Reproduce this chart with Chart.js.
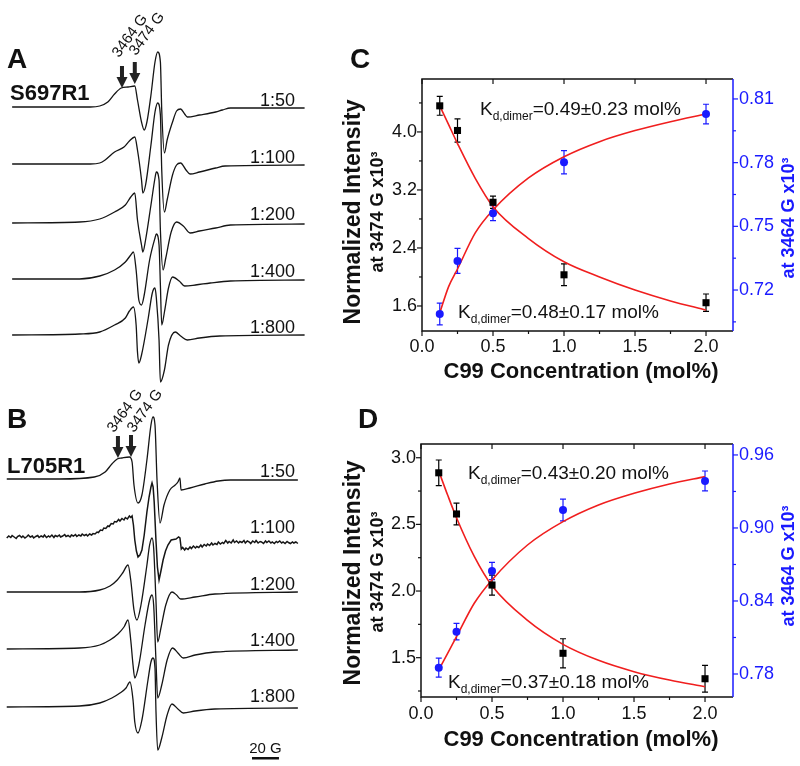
<!DOCTYPE html>
<html>
<head>
<meta charset="utf-8">
<script src="https://cdn.jsdelivr.net/npm/chart.js@4.4.1/dist/chart.umd.min.js"></script>
<style>
  html, body { margin: 0; padding: 0; background: #fff; }
  #wrap { position: relative; width: 800px; height: 766px; overflow: hidden; }
  canvas { position: absolute; }
</style>
</head>
<body>
<div id="wrap">
  <canvas id="epr" width="310" height="766" style="left:0;top:0;width:310px;height:766px"></canvas>
  <canvas id="chartC" width="470" height="385" style="left:330px;top:0;width:470px;height:385px"></canvas>
  <canvas id="chartD" width="470" height="381" style="left:330px;top:385px;width:470px;height:381px"></canvas>
</div>
<script>
const FONT = '"Liberation Sans", Arial, Helvetica, sans-serif';
const BLUE = "#1a1aff";
const RED = "#f01e1e";

const ratioLabels = ["1:50", "1:100", "1:200", "1:400", "1:800"];

const s697_50 = [[3383,0],[3418,0],[3441,0],[3448,1],[3454,5],[3459,13],[3464,19],[3469,20],[3474,21],[3476,7],[3479,-15],[3481,-23],[3483,-15],[3486,12],[3489,45],[3491,55],[3493,45],[3494,-3],[3496,-46],[3498,-33],[3502,-15],[3505,-4],[3508,-2],[3511,-7],[3513,-10],[3522,-8],[3534,-5],[3539,-3],[3545,-1],[3600,-1]];
const s697_100 = [[3383,0],[3441,0],[3448,1],[3452,4],[3459,12],[3466,17],[3470,23],[3474,27],[3476,14],[3479,-16],[3480,-29],[3482,-21],[3486,19],[3489,52],[3491,61],[3493,49],[3494,-6],[3496,-48],[3498,-36],[3502,-11],[3505,-1],[3508,1],[3512,-6],[3515,-10],[3522,-8],[3534,-4],[3541,-2],[3600,-1]];
const s697_200 = [[3383,-1],[3433,0],[3448,3],[3459,10],[3467,17],[3471,25],[3474,29],[3476,2],[3479,-23],[3480,-30],[3482,-18],[3486,17],[3489,44],[3490,50],[3492,42],[3493,-8],[3495,-48],[3497,-36],[3501,-10],[3505,0],[3510,-4],[3515,-11],[3522,-9],[3534,-6],[3545,-3],[3600,-2]];
const s697_400 = [[3383,0],[3433,0],[3448,3],[3459,9],[3467,17],[3471,24],[3473,27],[3475,9],[3477,-21],[3479,-26],[3481,-16],[3485,19],[3489,41],[3490,45],[3492,34],[3493,-6],[3494,-46],[3496,-33],[3499,-9],[3502,2],[3507,-2],[3511,-7],[3519,-6],[3530,-4],[3545,-2],[3600,-1]];
const s697_800 = [[3383,-1],[3433,0],[3448,2],[3459,9],[3467,16],[3470,23],[3473,27],[3475,9],[3476,-18],[3477,-29],[3479,-21],[3484,16],[3487,41],[3489,46],[3490,36],[3492,-6],[3493,-48],[3496,-36],[3499,-11],[3504,2],[3508,-2],[3513,-6],[3522,-4],[3537,-2],[3600,-1]];

const l705_50 = [[3379,0],[3418,0],[3444,2],[3452,7],[3457,15],[3461,20],[3464.5,21],[3470,22],[3472,17],[3473.4,-6],[3476.4,-24],[3479.3,-16],[3483,19],[3486,54],[3487.5,62],[3489,54],[3490.5,-1],[3492.7,-44],[3495.7,-26],[3500,-11],[3504,-6],[3506,-3],[3507.5,1],[3508.3,-11],[3515,-9],[3526,-5],[3536,-2],[3545,-1],[3595,-1]];
const l705_100 = [[3379,-1],[3380.5,1],[3382,-0.5],[3383,1.5],[3384.5,0],[3386,-1.5],[3387,0.5],[3388.5,1.5],[3390,-0.5],[3391,1],[3392.5,-1],[3394,0.5],[3395,2],[3396.5,0],[3398,1],[3399,-1],[3400.5,0.5],[3402,1.5],[3403,-0.5],[3404.5,1],[3406,0],[3407,2],[3408.5,-0.5],[3410,1],[3411,0],[3412.5,2],[3414,-0.5],[3415,1.5],[3416.5,0.5],[3418,2],[3419,0],[3420.5,1],[3422,2.5],[3423,0.5],[3424.5,1.5],[3426,0],[3427,2],[3428.5,1],[3430,2.5],[3431,0.5],[3432.5,2],[3434,1],[3435,3],[3436.5,1.5],[3438,2.5],[3439,1],[3440.5,3],[3442,2],[3443,3.5],[3444.5,3],[3446,5],[3447,4.5],[3448.5,7],[3450,6.5],[3451,9],[3452.5,8.5],[3454,11],[3455,10.5],[3456.5,13.5],[3458,13],[3459,15.5],[3460.5,15],[3462,17.5],[3463,16],[3464.5,18.5],[3466,17],[3467,19.5],[3468.5,18],[3470,21],[3471,19.5],[3472,21],[3473,12],[3474,-3],[3475.2,-14],[3476.4,-20],[3477.8,-18],[3479.3,-13],[3481,2],[3483,25],[3484.6,40],[3486,50],[3486.8,54],[3487.6,50],[3488.4,35],[3489.7,-3],[3490.8,-30],[3492,-43],[3493.4,-34],[3495,-23],[3496.8,-14],[3498.6,-8],[3501,-3],[3504.6,-2],[3506.5,0],[3507.5,-1],[3508.5,-12],[3509.5,-10.5],[3511,-13],[3512,-11],[3513.5,-12.5],[3515,-10],[3516,-11.5],[3517.5,-9],[3519,-11],[3520,-9.5],[3521.5,-10.5],[3523,-8],[3524,-10],[3525.5,-7.5],[3527,-9],[3528,-7],[3529.5,-8.5],[3531,-6],[3532,-8],[3533.5,-6.5],[3535,-7.5],[3536,-5],[3537.5,-7],[3539,-5.5],[3540,-6.5],[3541.5,-3.5],[3543,-6],[3544,-4.5],[3545.5,-6],[3547,-3],[3548,-5.5],[3549.5,-4],[3551,-6],[3552,-4.5],[3553.5,-5.5],[3555,-3.5],[3556,-6],[3557.5,-4],[3559,-5],[3560,-6.5],[3561.5,-4],[3563,-5.5],[3564,-3.5],[3565.5,-6],[3567,-4.5],[3568,-5],[3569.5,-6.5],[3571,-4],[3572,-5.5],[3573.5,-4],[3575,-6],[3576,-5],[3577.5,-6.5],[3579,-4.5],[3580,-5.5],[3581.5,-4],[3583,-6],[3584,-5],[3585.5,-6.5],[3587,-4.5],[3588,-5.5],[3589.5,-6.5],[3591,-5],[3592,-6],[3593.5,-5],[3595,-6.5]];
const l705_200 = [[3379,0],[3433,0],[3448,2],[3455.6,6],[3461,12],[3465,19],[3469,27],[3471,12],[3473.4,-18],[3475.6,-28],[3478.6,-13],[3483,27],[3485,47],[3486.8,54],[3488,44],[3489.7,-8],[3491,-50],[3493.4,-36],[3497,-13],[3501.6,0],[3505,-3],[3508,-7],[3518.7,-5],[3533.5,-2],[3595,0]];
const l705_400 = [[3379,-1],[3433,0],[3448,3],[3455.6,8],[3461.5,14],[3466,21],[3469,28],[3471,8],[3472.7,-17],[3474,-30],[3477,-17],[3481.6,23],[3485,48],[3486.8,53],[3488,43],[3489.7,-12],[3491,-50],[3494,-37],[3498,-12],[3502,0],[3506,-5],[3510,-10],[3518.7,-7],[3533.5,-4],[3595,-2]];
const l705_800 = [[3379,-1],[3433,0],[3448,3],[3457,8],[3463,13],[3467.5,18],[3470.4,24],[3472.7,6],[3474,-16],[3476.4,-27],[3479.3,-14],[3483.8,26],[3486,44],[3487.5,48],[3489,38],[3489.7,-4],[3491,-44],[3494,-32],[3498,-9],[3501.6,2],[3506,-3],[3510,-7],[3518.7,-5],[3533.5,-3],[3595,-2]];

const fieldMarks = ["3464 G", "3474 G"];
const scaleBarGauss = 20;

// ---- titration data (C and D) ----
const concentrations = [0.125, 0.25, 0.5, 1.0, 2.0];

const cInt3474 = [4.36, 4.02, 3.03, 2.03, 1.645];
const cErr3474 = [0.13, 0.16, 0.085, 0.15, 0.12];
const cInt3464 = [0.7087, 0.7337, 0.7562, 0.7802, 0.8029];
const cErr3464 = [0.0051, 0.0059, 0.0035, 0.0055, 0.0046];

const dInt3474 = [2.887, 2.578, 2.045, 1.533, 1.342];
const dErr3474 = [0.096, 0.081, 0.075, 0.109, 0.10];
const dInt3464 = [0.7852, 0.8148, 0.8647, 0.9148, 0.9386];
const dErr3464 = [0.0078, 0.0068, 0.0071, 0.0089, 0.0082];

const fitConc = [0.125, 0.1875, 0.25, 0.375, 0.5, 0.75, 1.0, 1.25, 1.5, 1.75, 2.0];
const cFit3474 = [4.36, 4.10, 3.84, 3.36, 2.97, 2.53, 2.21, 2.00, 1.82, 1.67, 1.545];
const cFit3464 = [0.7092, 0.7216, 0.7299, 0.7469, 0.7577, 0.7728, 0.7828, 0.7899, 0.7951, 0.7993, 0.8029];
const dFit3474 = [2.90, 2.72, 2.55, 2.26, 2.04, 1.78, 1.60, 1.48, 1.395, 1.332, 1.282];
const dFit3464 = [0.7833, 0.797, 0.8107, 0.8381, 0.8573, 0.886, 0.9052, 0.9189, 0.9285, 0.9362, 0.9422];

const kdLabelsC = ["0.49±0.23", "0.48±0.17"];
const kdLabelsD = ["0.43±0.20", "0.37±0.18"];

const xTicks = [0, 0.5, 1.0, 1.5, 2.0];
const xMinor = [0.25, 0.75, 1.25, 1.75];
const cLeftTicks = [1.6, 2.4, 3.2, 4.0];
const cLeftMinor = [2.0, 2.8, 3.6, 4.4];
const cRightTicks = [0.72, 0.75, 0.78, 0.81];
const cRightMinor = [0.705, 0.735, 0.765, 0.795];
const dLeftTicks = [1.5, 2.0, 2.5, 3.0];
const dLeftMinor = [1.25, 1.75, 2.25, 2.75];
const dRightTicks = [0.78, 0.84, 0.90, 0.96];
const dRightMinor = [0.81, 0.87, 0.93];

Chart.defaults.font.family = FONT;
Chart.defaults.color = "#111";
Chart.defaults.animation = false;

// ================= panels A and B =================
const offsetsA = [107, 164, 222, 279, 334];
const offsetsB = [479, 537, 592, 648, 706];
const labelYA = [106, 163, 220, 277, 333];
const labelYB = [477, 533, 590, 646, 702];

function traceSet(pts, off, noisy) {
  const ds = {
    data: pts.map(p => ({ x: p[0], y: p[1] - off })),
    borderColor: "#151515",
    borderWidth: noisy ? 1.5 : 1.3,
    pointRadius: 0,
    fill: false,
  };
  if (noisy) ds.tension = 0;
  else ds.cubicInterpolationMode = "monotone";
  return ds;
}

const tracesA = [s697_50, s697_100, s697_200, s697_400, s697_800];
const tracesB = [l705_50, l705_100, l705_200, l705_400, l705_800];
const eprSets = [];
tracesA.forEach((t, i) => eprSets.push(traceSet(t, offsetsA[i], false)));
tracesB.forEach((t, i) => eprSets.push(traceSet(t, offsetsB[i], i === 1)));

function arrow(ctx, x, tip) {
  ctx.fillRect(x - 2, tip - 22, 4, 12);
  ctx.beginPath();
  ctx.moveTo(x - 5.5, tip - 11);
  ctx.lineTo(x + 5.5, tip - 11);
  ctx.lineTo(x, tip);
  ctx.closePath();
  ctx.fill();
}

const eprDecor = {
  id: "eprDecor",
  afterDraw(chart) {
    const ctx = chart.ctx;
    const xs = chart.scales.x, ys = chart.scales.y;
    ctx.save();
    ctx.fillStyle = "#111";
    ctx.textBaseline = "alphabetic";
    ctx.textAlign = "left";
    ctx.font = "bold 28px " + FONT;
    ctx.fillText("A", 7, 68);
    ctx.fillText("B", 7, 428);
    ctx.font = "bold 22px " + FONT;
    ctx.fillText("S697R1", 10, 100);
    ctx.fillText("L705R1", 7, 473);

    ctx.font = "18px " + FONT;
    ctx.textAlign = "right";
    ratioLabels.forEach((t, i) => {
      ctx.fillText(t, 295, labelYA[i]);
      ctx.fillText(t, 295, labelYB[i]);
    });

    // arrows at the two field positions
    ctx.fillStyle = "#222";
    [[3464.5, 88], [3474, 84], [3461.5, 458], [3471.2, 457]].forEach(a => {
      arrow(ctx, xs.getPixelForValue(a[0]), ys.getPixelForValue(-a[1]));
    });

    // rotated field labels
    ctx.fillStyle = "#111";
    ctx.font = "15px " + FONT;
    ctx.textAlign = "center";
    ctx.textBaseline = "middle";
    [[130, 36, 0], [147, 34, 1], [125, 411, 0], [145, 411, 1]].forEach(p => {
      ctx.save();
      ctx.translate(p[0], p[1]);
      ctx.rotate(-54 * Math.PI / 180);
      ctx.fillText(fieldMarks[p[2]], 0, 0);
      ctx.restore();
    });

    // 20 G scale bar
    const x0 = 252, x1 = x0 + (xs.getPixelForValue(3500 + scaleBarGauss) - xs.getPixelForValue(3500));
    ctx.font = "15px " + FONT;
    ctx.textBaseline = "alphabetic";
    ctx.fillText(scaleBarGauss + " G", (x0 + x1) / 2, 753);
    ctx.fillRect(x0, 757, x1 - x0, 2.5);
    ctx.restore();
  },
};

new Chart(document.getElementById("epr"), {
  type: "line",
  data: { datasets: eprSets },
  options: {
    responsive: false,
    layout: { padding: 0 },
    plugins: { legend: { display: false }, tooltip: { enabled: false } },
    scales: {
      x: { type: "linear", min: 3374, max: 3604, display: false },
      y: { type: "linear", min: -766, max: 0, display: false },
    },
  },
  plugins: [eprDecor],
});

// ================= panels C and D =================
function drawKd(ctx, x, y, val) {
  ctx.font = "19px " + FONT;
  ctx.fillText("K", x, y);
  x += ctx.measureText("K").width;
  ctx.font = "12px " + FONT;
  ctx.fillText("d,dimer", x, y + 5);
  x += ctx.measureText("d,dimer").width;
  ctx.font = "19px " + FONT;
  ctx.fillText("=" + val + " mol%", x, y);
}

function marks(ctx, scale, vals, len, side, area) {
  vals.forEach(v => {
    const p = scale.getPixelForValue(v);
    ctx.beginPath();
    if (side === "left") { ctx.moveTo(area.left, p); ctx.lineTo(area.left - len, p); }
    if (side === "right") { ctx.moveTo(area.right, p); ctx.lineTo(area.right + len, p); }
    if (side === "bottom") { ctx.moveTo(p, area.bottom); ctx.lineTo(p, area.bottom + len); }
    if (side === "top") { ctx.moveTo(p, area.top); ctx.lineTo(p, area.top + len); }
    ctx.stroke();
  });
}

const panelDecor = {
  id: "panelDecor",
  beforeDatasetsDraw(chart) {
    const ctx = chart.ctx;
    chart.data.datasets.forEach(ds => {
      if (!ds.errors) return;
      const xs = chart.scales.x, ys = chart.scales[ds.yAxisID];
      ctx.save();
      ctx.strokeStyle = ds.borderColor;
      ctx.lineWidth = 1.2;
      ds.data.forEach((p, j) => {
        const x = xs.getPixelForValue(p.x);
        const y1 = ys.getPixelForValue(p.y + ds.errors[j]);
        const y2 = ys.getPixelForValue(p.y - ds.errors[j]);
        ctx.beginPath();
        ctx.moveTo(x, y1); ctx.lineTo(x, y2);
        ctx.moveTo(x - 3, y1); ctx.lineTo(x + 3, y1);
        ctx.moveTo(x - 3, y2); ctx.lineTo(x + 3, y2);
        ctx.stroke();
      });
      ctx.restore();
    });
  },
  afterDraw(chart, args, o) {
    const ctx = chart.ctx, a = chart.chartArea;
    ctx.save();
    ctx.lineWidth = 1.5;
    ctx.strokeStyle = "#111";
    ctx.beginPath();
    ctx.moveTo(a.right, a.top); ctx.lineTo(a.left, a.top);
    ctx.lineTo(a.left, a.bottom); ctx.lineTo(a.right, a.bottom);
    ctx.stroke();
    ctx.lineWidth = 1.2;
    marks(ctx, chart.scales.x, xTicks, 5, "bottom", a);
    marks(ctx, chart.scales.x, xMinor, 3, "bottom", a);
    marks(ctx, chart.scales.x, xTicks, 5, "top", a);
    marks(ctx, chart.scales.y, o.leftTicks, 5, "left", a);
    marks(ctx, chart.scales.y, o.leftMinor, 3, "left", a);
    ctx.strokeStyle = BLUE;
    ctx.lineWidth = 1.5;
    ctx.beginPath();
    ctx.moveTo(a.right, a.top); ctx.lineTo(a.right, a.bottom);
    ctx.stroke();
    ctx.lineWidth = 1.2;
    marks(ctx, chart.scales.y1, o.rightTicks, 5, "right", a);
    marks(ctx, chart.scales.y1, o.rightMinor, 3, "right", a);

    // letters and titles
    ctx.fillStyle = "#111";
    ctx.textAlign = "left";
    ctx.textBaseline = "alphabetic";
    ctx.font = "bold 28px " + FONT;
    ctx.fillText(o.letter, o.letterPos[0], o.letterPos[1]);
    ctx.font = "bold 22px " + FONT;
    ctx.textAlign = "center";
    ctx.fillText("C99 Concentration (mol%)", o.xTitle[0], o.xTitle[1]);

    ctx.textBaseline = "middle";
    const rot = (txt, x, y, font, color) => {
      ctx.save();
      ctx.translate(x, y);
      ctx.rotate(-Math.PI / 2);
      ctx.font = font;
      ctx.fillStyle = color;
      ctx.fillText(txt, 0, 0);
      ctx.restore();
    };
    rot("Normalized Intensity", 24, o.titleY[0], "bold 23px " + FONT, "#111");
    rot("at 3474 G x10\u00b3", 48.5, o.titleY[1], "bold 18px " + FONT, "#111");
    rot("at 3464 G x10\u00b3", 459.5, o.titleY[2], "bold 18px " + FONT, BLUE);

    ctx.textAlign = "left";
    ctx.textBaseline = "alphabetic";
    ctx.fillStyle = "#111";
    drawKd(ctx, o.kdPos[0][0], o.kdPos[0][1], o.kd[0]);
    drawKd(ctx, o.kdPos[1][0], o.kdPos[1][1], o.kd[1]);
    ctx.restore();
  },
};

function buildPanel(id, p) {
  const pts = vals => concentrations.map((c, i) => ({ x: c, y: vals[i] }));
  const fit = vals => fitConc.map((c, i) => ({ x: c, y: vals[i] }));
  return new Chart(document.getElementById(id), {
    type: "line",
    data: {
      datasets: [
        { data: pts(p.int3474), errors: p.err3474, yAxisID: "y", showLine: false,
          pointStyle: "rect", pointRadius: 5, backgroundColor: "#000", borderColor: "#000", borderWidth: 0, order: 0 },
        { data: pts(p.int3464), errors: p.err3464, yAxisID: "y1", showLine: false,
          pointStyle: "circle", pointRadius: 4, backgroundColor: BLUE, borderColor: BLUE, borderWidth: 0, order: 0 },
        { data: fit(p.fit3474), yAxisID: "y", borderColor: RED, borderWidth: 1.6, pointRadius: 0,
          cubicInterpolationMode: "monotone", fill: false, order: 1 },
        { data: fit(p.fit3464), yAxisID: "y1", borderColor: RED, borderWidth: 1.6, pointRadius: 0,
          cubicInterpolationMode: "monotone", fill: false, order: 1 },
      ],
    },
    options: {
      responsive: false,
      layout: { padding: { top: p.top, left: 0, right: 0, bottom: 0 } },
      plugins: {
        legend: { display: false },
        tooltip: { enabled: false },
        panelDecor: p.decor,
      },
      scales: {
        x: {
          type: "linear", min: 0, max: p.xMax, bounds: "data",
          grid: { display: false, drawTicks: false }, border: { display: false },
          ticks: { font: { size: 18 }, color: "#111", padding: p.xPad, autoSkip: false, maxRotation: 0,
                   callback: v => v.toFixed(1) },
          afterBuildTicks: s => { s.ticks = xTicks.map(v => ({ value: v })); },
          afterFit: s => { s.height = p.xH; },
        },
        y: {
          type: "linear", position: "left", min: p.yMin, max: p.yMax, bounds: "data",
          grid: { display: false, drawTicks: false }, border: { display: false },
          ticks: { font: { size: 18 }, color: "#111", padding: 5, autoSkip: false,
                   callback: v => v.toFixed(1) },
          afterBuildTicks: s => { s.ticks = p.decor.leftTicks.map(v => ({ value: v })); },
          afterFit: s => { s.width = p.leftW; },
        },
        y1: {
          type: "linear", position: "right", min: p.y1Min, max: p.y1Max, bounds: "data",
          grid: { display: false, drawTicks: false }, border: { display: false },
          ticks: { font: { size: 18 }, color: BLUE, padding: 6, autoSkip: false,
                   callback: v => v.toFixed(2) },
          afterBuildTicks: s => { s.ticks = p.decor.rightTicks.map(v => ({ value: v })); },
          afterFit: s => { s.width = 67; },
        },
      },
    },
    plugins: [panelDecor],
  });
}

buildPanel("chartC", {
  int3474: cInt3474, err3474: cErr3474, int3464: cInt3464, err3464: cErr3464,
  fit3474: cFit3474, fit3464: cFit3464,
  top: 79, xH: 54, leftW: 92, xPad: 5, xMax: 2.19,
  yMin: 1.255, yMax: 4.73, y1Min: 0.7007, y1Max: 0.8194,
  decor: {
    letter: "C", letterPos: [20, 68], xTitle: [251, 378], titleY: [212, 212, 218],
    kd: kdLabelsC, kdPos: [[150, 115], [128, 318]],
    leftTicks: cLeftTicks, leftMinor: cLeftMinor, rightTicks: cRightTicks, rightMinor: cRightMinor,
  },
});

buildPanel("chartD", {
  int3474: dInt3474, err3474: dErr3474, int3464: dInt3464, err3464: dErr3464,
  fit3474: dFit3474, fit3464: dFit3464,
  top: 59, xH: 69, leftW: 91, xPad: 6, xMax: 2.197,
  yMin: 1.205, yMax: 3.103, y1Min: 0.7611, y1Max: 0.969,
  decor: {
    letter: "D", letterPos: [28, 43], xTitle: [251, 361], titleY: [188, 187, 181],
    kd: kdLabelsD, kdPos: [[138, 94], [118, 303]],
    leftTicks: dLeftTicks, leftMinor: dLeftMinor, rightTicks: dRightTicks, rightMinor: dRightMinor,
  },
});
</script>
</body>
</html>
